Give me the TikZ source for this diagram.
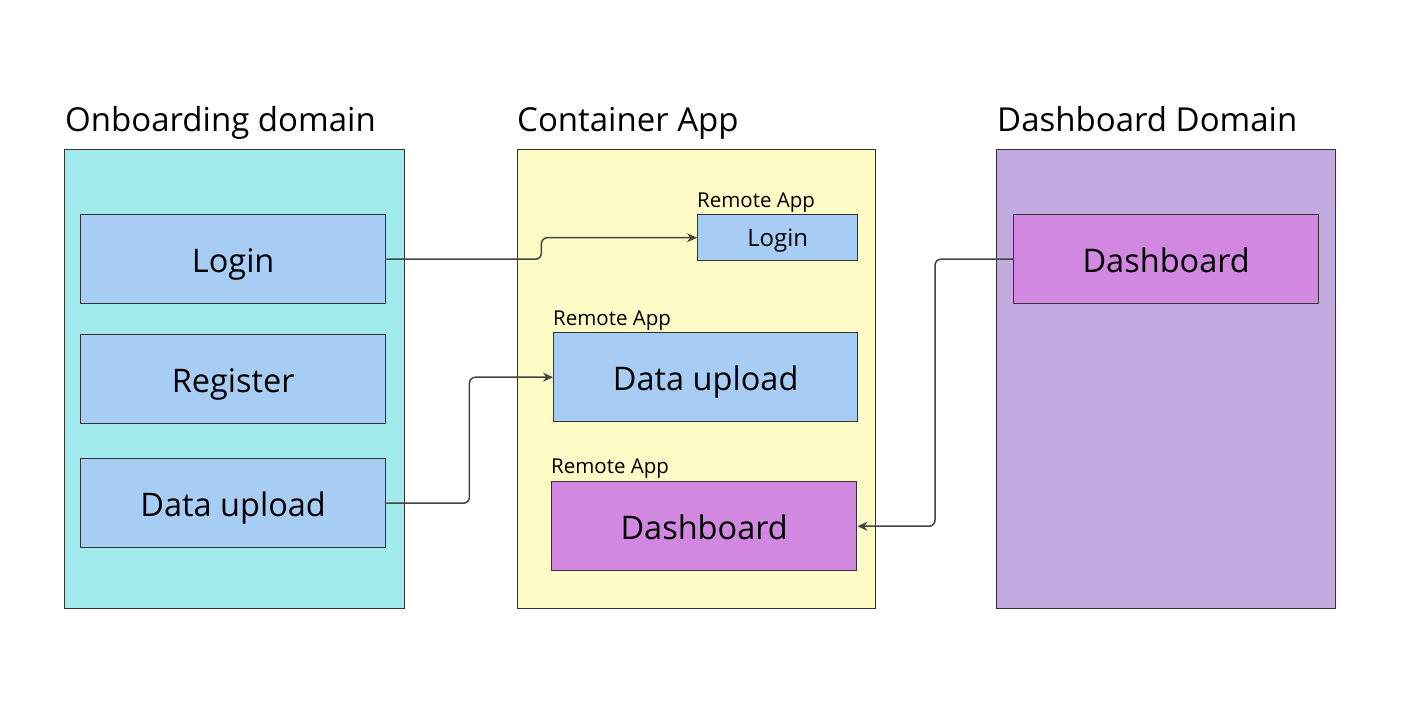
\documentclass[tikz,border=0pt]{standalone}
\usepackage{fontspec}
\setmainfont{Open Sans}
\usetikzlibrary{arrows.meta}
\definecolor{onbfill}{HTML}{A1EBED}
\definecolor{conffill}{HTML}{FFFBC7}
\definecolor{dashfill}{HTML}{C3ABE1}
\definecolor{bluefill}{HTML}{A8CDF4}
\definecolor{pinkfill}{HTML}{D288E0}
\definecolor{edge}{HTML}{333333}
\definecolor{wire}{HTML}{444444}
\begin{document}
\begin{tikzpicture}[x=1pt,y=-1pt,
		zone/.style={draw=edge,line width=1.4pt,anchor=north west,inner sep=0pt},
		block/.style={draw=edge,line width=1.4pt,fill=bluefill,anchor=north west,inner sep=0pt,
			text height=27pt,text depth=0pt,font=\fontsize{32.5}{38}\selectfont},
		pinkblock/.style={block,fill=pinkfill},
		heading/.style={anchor=base west,inner sep=0pt,font=\fontsize{33}{40}\selectfont},
		remotetag/.style={anchor=base west,inner sep=0pt,font=\fontsize{20.5}{24}\selectfont},
		link/.style={-{Stealth[length=10pt,width=9pt]},draw=wire,line width=1.5pt,rounded corners=6pt}]
		\useasboundingbox (0,0) rectangle (1423,702);

		% domains
		\node[zone,fill=onbfill,minimum width=340,minimum height=459] (onb) at (64,149) {};
		\node[zone,fill=conffill,minimum width=358,minimum height=459] (cont) at (517,149) {};
		\node[zone,fill=dashfill,minimum width=339,minimum height=459] (dom) at (996,149) {};
		\node[heading] (onbt) at (65,131) {Onboarding domain};
		\node[heading] (contt) at (517,131) {Container App};
		\node[heading] (domt) at (997,131) {Dashboard Domain};

		% onboarding blocks
		\node[block,minimum width=305,minimum height=89] (login) at (80,214) {Login};
		\node[block,minimum width=305,minimum height=89] (register) at (80,334) {Register};
		\node[block,minimum width=305,minimum height=89] (upload) at (80,458) {Data upload};

		% remote apps
		\node[block,minimum width=160,minimum height=46,text height=17pt,
			font=\fontsize{24}{28}\selectfont] (rlogin) at (697,214) {Login};
		\node[remotetag] (rlogint) at (697,207) {Remote App};
		\node[block,minimum width=304,minimum height=89] (rupload) at (553,332) {Data upload};
		\node[remotetag] (ruploadt) at (553,325) {Remote App};
		\node[pinkblock,minimum width=305,minimum height=89] (rdash) at (551,481) {Dashboard};
		\node[remotetag] (rdasht) at (551,473) {Remote App};

		% dashboard block
		\node[pinkblock,minimum width=305,minimum height=89] (dash) at (1013,214) {Dashboard};

		% connection
		\draw[link] (login.east) -- ++(155,0) |- (rlogin.west);
		\draw[link] (upload.east) -- ++(83,0) |- (rupload.west);
		\draw[link] (dash.west) -- ++(-78,0) |- (rdash.east);
	\end{tikzpicture}
\end{document}
